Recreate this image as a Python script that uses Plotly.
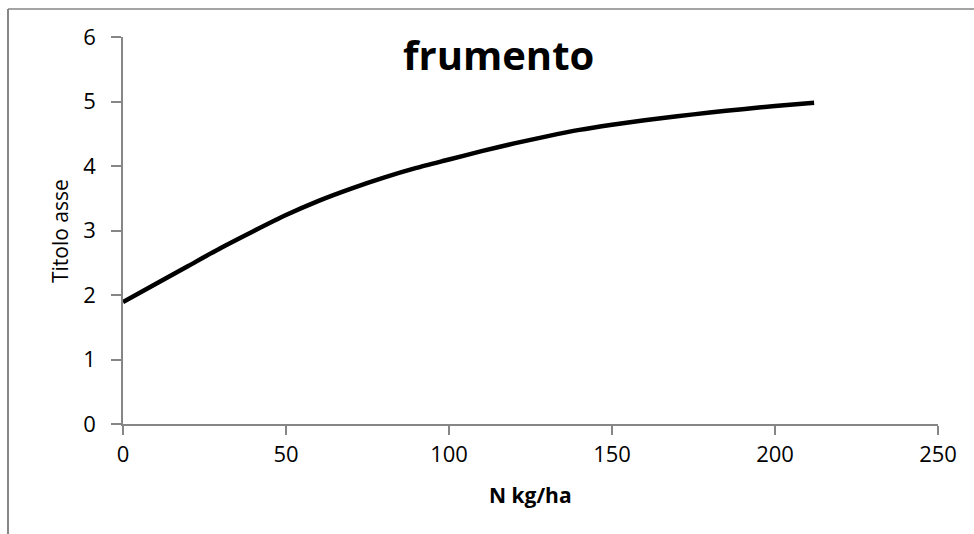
import plotly.graph_objects as go

# Data
n_kg_ha = [0, 10, 20, 30, 40, 50, 60, 70, 80, 90, 100, 110, 120, 130, 140,
           150, 160, 170, 180, 190, 200, 212]
titolo = [1.89, 2.17, 2.45, 2.73, 2.99, 3.24, 3.46, 3.65, 3.82, 3.97, 4.10,
          4.23, 4.35, 4.46, 4.56, 4.64, 4.71, 4.77, 4.83, 4.88, 4.93, 4.98]
x_ticks = [0, 50, 100, 150, 200, 250]
y_ticks = [0, 1, 2, 3, 4, 5, 6]

W, H = 974, 534
L, R, T, B = 123, 36, 37, 110
pw, ph = W - L - R, H - T - B

def px_x(p):
    return (p - L) / pw

def px_y(p):
    return (H - B - p) / ph

FONT = "Open Sans"
AX = "#868686"

fig = go.Figure()
fig.add_trace(go.Scatter(x=n_kg_ha, y=titolo, mode="lines",
                         line=dict(color="black", width=4.5, shape="spline", smoothing=0.6),
                         showlegend=False, hoverinfo="skip"))

fig.update_layout(
    width=W, height=H,
    margin=dict(l=L, r=R, t=T, b=B, pad=0),
    paper_bgcolor="white", plot_bgcolor="white",
    font=dict(family=FONT, color="black", size=22),
    showlegend=False,
)
fig.update_xaxes(range=[0, 250], tickvals=x_ticks, ticktext=[str(v) for v in x_ticks],
                 showgrid=False, zeroline=False, showline=True, linecolor=AX, linewidth=1.5,
                 ticks="outside", ticklen=9, tickcolor=AX, tickwidth=1.5,
                 tickfont=dict(family=FONT, size=22, color="black"),
                 ticklabelstandoff=1)
fig.update_yaxes(range=[0, 6], tickvals=y_ticks, ticktext=[str(v) for v in y_ticks],
                 showgrid=False, zeroline=False, showline=True, linecolor=AX, linewidth=1.5,
                 ticks="outside", ticklen=10, tickcolor=AX, tickwidth=1.5,
                 tickfont=dict(family=FONT, size=22, color="black"),
                 ticklabelstandoff=11)

# Titles
fig.add_annotation(text="<b>frumento</b>", x=px_x(498), y=px_y(55), xref="paper", yref="paper",
                   showarrow=False, font=dict(family=FONT, size=40, color="black"),
                   xanchor="center", yanchor="middle")
fig.add_annotation(text="Titolo asse", x=px_x(60), y=px_y(231), xref="paper", yref="paper",
                   showarrow=False, textangle=-90, font=dict(family=FONT, size=21, color="black"),
                   xanchor="center", yanchor="middle")
fig.add_annotation(text="<b>N kg/ha</b>", x=px_x(530), y=px_y(495), xref="paper", yref="paper",
                   showarrow=False, font=dict(family=FONT, size=21, color="black"),
                   xanchor="center", yanchor="middle")

# Outer frame lines (left and top)
fig.add_shape(type="line", xref="paper", yref="paper", x0=px_x(8), x1=px_x(8),
              y0=px_y(9), y1=px_y(540), line=dict(color=AX, width=2))
fig.add_shape(type="line", xref="paper", yref="paper", x0=px_x(8), x1=px_x(980),
              y0=px_y(9), y1=px_y(9), line=dict(color=AX, width=1.5))

fig.write_html("out.html")
